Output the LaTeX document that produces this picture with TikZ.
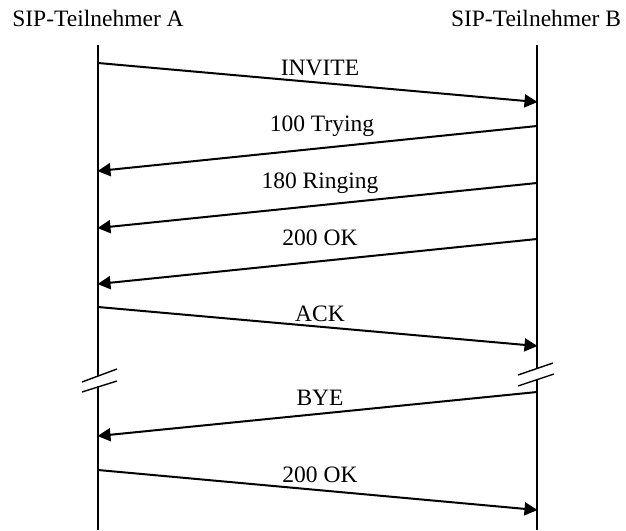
\documentclass[tikz,border=0pt]{standalone}
\usepackage{fontspec}
\setmainfont{Liberation Serif}
\usetikzlibrary{arrows.meta}
\begin{document}
\begin{tikzpicture}[x=1pt,y=-1pt,
  lbl/.style={anchor=base,inner sep=0pt,font=\fontsize{23.5}{28}\selectfont},
  life/.style={line width=1.4pt},
  brk/.style={line width=1.4pt},
  msg/.style={line width=2pt,-{Triangle[length=13pt,width=13pt]},shorten >=-0.5pt}]
\useasboundingbox (0,0) rectangle (626,530);
% headers
\node[lbl] (hA) at (98,26.5) {SIP-Teilnehmer A};
\node[lbl] (hB) at (536,26.5) {SIP-Teilnehmer B};
% lifeline coordinates
\coordinate (At) at (98,45);
\coordinate (Ab1) at (98,376);
\coordinate (Ab2) at (98,386);
\coordinate (Ae) at (98,530);
\coordinate (Bt) at (537,45);
\coordinate (Bb1) at (537,369);
\coordinate (Bb2) at (537,380);
\coordinate (Be) at (537,530);
\draw[life] (At) -- (Ab1);
\draw[life] (Ab2) -- (Ae);
\draw[life] (Bt) -- (Bb1);
\draw[life] (Bb2) -- (Be);
% break marks
\coordinate (sa1) at (82,382); \coordinate (sa2) at (117,369);
\coordinate (sa3) at (82,392); \coordinate (sa4) at (117,381);
\coordinate (sb1) at (518,375); \coordinate (sb2) at (553,363);
\coordinate (sb3) at (518,386); \coordinate (sb4) at (554,374);
\draw[brk] (sa1) -- (sa2);
\draw[brk] (sa3) -- (sa4);
\draw[brk] (sb1) -- (sb2);
\draw[brk] (sb3) -- (sb4);
% message end points
\coordinate (m1s) at (98,63);   \coordinate (m1e) at (537,102);
\coordinate (m2s) at (537,126); \coordinate (m2e) at (98,171);
\coordinate (m3s) at (537,183); \coordinate (m3e) at (98,228);
\coordinate (m4s) at (537,239); \coordinate (m4e) at (98,284);
\coordinate (m5s) at (98,307);  \coordinate (m5e) at (537,346);
\coordinate (m6s) at (537,392); \coordinate (m6e) at (98,436);
\coordinate (m7s) at (98,470);  \coordinate (m7e) at (537,510);
\draw[msg] (m1s) -- (m1e);
\draw[msg] (m2s) -- (m2e);
\draw[msg] (m3s) -- (m3e);
\draw[msg] (m4s) -- (m4e);
\draw[msg] (m5s) -- (m5e);
\draw[msg] (m6s) -- (m6e);
\draw[msg] (m7s) -- (m7e);
% labels
\node[lbl] (l1) at (320,75.5) {INVITE};
\node[lbl] (l2) at (322,131) {100 Trying};
\node[lbl] (l3) at (320,188) {180 Ringing};
\node[lbl] (l4) at (320,245) {200 OK};
\node[lbl] (l5) at (320,321) {ACK};
\node[lbl] (l6) at (320,405) {BYE};
\node[lbl] (l7) at (320,482) {200 OK};
\end{tikzpicture}
\end{document}
